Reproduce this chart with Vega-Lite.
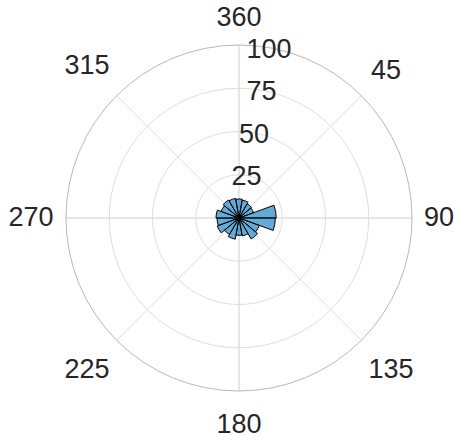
{
  "$schema": "https://vega.github.io/schema/vega-lite/v6.json",
  "width": 432,
  "height": 436,
  "autosize": {"type": "none"},
  "padding": {"left": 23, "top": 0, "right": 0, "bottom": 6},
  "background": "white",
  "config": {"view": {"stroke": null}, "font": "Liberation Sans", "text": {"font": "Liberation Sans"}},
  "datasets": {
    "bins": [
      {"start": -10, "end": 10, "count": 11},
      {"start": 10, "end": 30, "count": 10.5},
      {"start": 30, "end": 50, "count": 9.5},
      {"start": 50, "end": 70, "count": 9},
      {"start": 70, "end": 90, "count": 21.5},
      {"start": 90, "end": 110, "count": 21},
      {"start": 110, "end": 130, "count": 12.5},
      {"start": 130, "end": 150, "count": 14},
      {"start": 150, "end": 170, "count": 10.5},
      {"start": 170, "end": 190, "count": 10},
      {"start": 190, "end": 210, "count": 12.4},
      {"start": 210, "end": 230, "count": 11},
      {"start": 230, "end": 250, "count": 13.4},
      {"start": 250, "end": 270, "count": 12.7},
      {"start": 270, "end": 290, "count": 13.3},
      {"start": 290, "end": 310, "count": 11},
      {"start": 310, "end": 330, "count": 12},
      {"start": 330, "end": 350, "count": 11.5}
    ],
    "rings": [{"r": 25, "label": "25"}, {"r": 50, "label": "50"}, {"r": 75, "label": "75"}, {"r": 100, "label": "100"}],
    "spokes": [{"a": 0}, {"a": 45}, {"a": 90}, {"a": 135}, {"a": 180}, {"a": 225}, {"a": 270}, {"a": 315}],
    "ticks": [
      {"deg": 0, "label": "360"}, {"deg": 45, "label": "45"}, {"deg": 90, "label": "90"}, {"deg": 135, "label": "135"},
      {"deg": 180, "label": "180"}, {"deg": 225, "label": "225"}, {"deg": 270, "label": "270"}, {"deg": 315, "label": "315"}
    ]
  },
  "layer": [
    {
      "data": {"name": "spokes"},
      "mark": {"type": "arc", "fill": null, "stroke": "#dedede", "strokeWidth": 1},
      "encoding": {
        "theta": {"field": "a", "type": "quantitative", "stack": null, "scale": {"domain": [0, 360], "range": [0, 6.283185307179586]}},
        "theta2": {"field": "a"},
        "radius": {"datum": 100, "type": "quantitative", "stack": null, "scale": {"type": "linear", "domain": [0, 100], "range": [0, 173], "zero": true}}
      }
    },
    {
      "data": {"name": "rings"},
      "transform": [{"filter": "datum.r < 100"}],
      "mark": {"type": "arc", "fill": null, "stroke": "#dedede", "strokeWidth": 1},
      "encoding": {
        "theta": {"datum": 0, "type": "quantitative", "stack": null},
        "theta2": {"datum": 360},
        "radius": {"field": "r", "type": "quantitative", "stack": null}
      }
    },
    {
      "data": {"name": "rings"},
      "transform": [{"filter": "datum.r == 100"}],
      "mark": {"type": "arc", "fill": null, "stroke": "#b8b8b8", "strokeWidth": 1},
      "encoding": {
        "theta": {"datum": 0, "type": "quantitative", "stack": null},
        "theta2": {"datum": 360},
        "radius": {"field": "r", "type": "quantitative", "stack": null}
      }
    },
    {
      "data": {"name": "bins"},
      "mark": {"type": "arc", "fill": "#0072BD", "fillOpacity": 0.6, "stroke": "#000000", "strokeWidth": 1, "strokeJoin": "miter"},
      "encoding": {
        "theta": {"field": "start", "type": "quantitative", "stack": null},
        "theta2": {"field": "end"},
        "radius": {"field": "count", "type": "quantitative", "stack": null}
      }
    },
    {
      "data": {"name": "rings"},
      "mark": {"type": "text", "fontSize": 27, "color": "#262626", "align": "center", "baseline": "middle", "dy": 2},
      "encoding": {
        "theta": {"datum": 10, "type": "quantitative", "stack": null},
        "radius": {"field": "r", "type": "quantitative", "stack": null},
        "text": {"field": "label"}
      }
    },
    {
      "data": {"name": "ticks"},
      "transform": [{"filter": "datum.deg == 0 || datum.deg == 90"}],
      "mark": {"type": "text", "fontSize": 27, "color": "#262626", "align": "center", "baseline": "middle", "radius": 200},
      "encoding": {
        "theta": {"field": "deg", "type": "quantitative", "stack": null},
        "text": {"field": "label"}
      }
    },
    {
      "data": {"name": "ticks"},
      "transform": [{"filter": "datum.deg == 180"}],
      "mark": {"type": "text", "fontSize": 27, "color": "#262626", "align": "center", "baseline": "middle", "radius": 207},
      "encoding": {
        "theta": {"field": "deg", "type": "quantitative", "stack": null},
        "text": {"field": "label"}
      }
    },
    {
      "data": {"name": "ticks"},
      "transform": [{"filter": "datum.deg == 270 || datum.deg == 45"}],
      "mark": {"type": "text", "fontSize": 27, "color": "#262626", "align": "center", "baseline": "middle", "radius": 208},
      "encoding": {
        "theta": {"field": "deg", "type": "quantitative", "stack": null},
        "text": {"field": "label"}
      }
    },
    {
      "data": {"name": "ticks"},
      "transform": [{"filter": "datum.deg == 135 || datum.deg == 225 || datum.deg == 315"}],
      "mark": {"type": "text", "fontSize": 27, "color": "#262626", "align": "center", "baseline": "middle", "radius": 215},
      "encoding": {
        "theta": {"field": "deg", "type": "quantitative", "stack": null},
        "text": {"field": "label"}
      }
    }
  ]
}
